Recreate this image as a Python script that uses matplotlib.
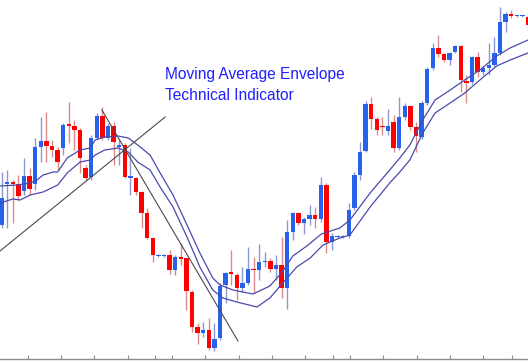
"""Moving average envelope chart: candlesticks, two envelope bands and trend lines."""

import matplotlib.pyplot as plt

# candle data, price units (one unit ~ one pixel of height)
opens = [138, 179, 181, 179, 172, 187, 179, 216, 222, 217, 213, 215, 239, 237, 233, 195,
         186, 225, 247, 225, 237, 216, 218, 185, 185, 171, 150, 125, 107, 107, 108, 93,
         106, 105, 71, 36, 30, 33, 15, 25, 78, 91, 88, 75, 80, 94, 93, 101,
         102, 94, 98, 75, 131, 150, 140, 144, 148, 144, 178, 121, 126, 126, 127, 155,
         188, 212, 259, 244, 237, 232, 241, 215, 246, 257, 236, 226, 260, 295, 315, 309,
         303, 311, 317, 282, 281, 306, 291, 295, 298, 310, 341, 349, 347, 347, 346]
highs = [191, 193, 183, 188, 205, 195, 225, 246, 251, 223, 216, 240, 261, 243, 235, 198,
         228, 250, 256, 240, 241, 223, 220, 215, 186, 172, 155, 126, 109, 109, 113, 108,
         120, 105, 73, 40, 41, 45, 40, 80, 91, 113, 90, 96, 116, 106, 119, 111,
         105, 108, 126, 143, 151, 151, 146, 158, 156, 186, 180, 130, 128, 128, 160, 191,
         221, 262, 266, 246, 246, 254, 248, 266, 260, 258, 241, 262, 296, 320, 328, 310,
         311, 318, 318, 288, 307, 311, 297, 320, 326, 356, 351, 353, 348, 348, 346]
lows = [135, 135, 140, 163, 168, 168, 173, 201, 201, 206, 193, 208, 220, 213, 190, 183,
        183, 224, 223, 223, 198, 198, 185, 168, 168, 135, 124, 101, 106, 106, 89, 88,
        98, 53, 31, 19, 26, 13, 12, 23, 60, 78, 63, 71, 78, 70, 83, 96,
        91, 83, 65, 54, 123, 138, 129, 138, 135, 141, 110, 113, 125, 125, 125, 153,
        183, 211, 234, 228, 228, 228, 211, 213, 243, 233, 211, 224, 258, 293, 306, 301,
        298, 310, 271, 260, 279, 286, 288, 288, 296, 308, 331, 345, 346, 346, 333]
closes = [165, 181, 179, 167, 187, 174, 216, 222, 217, 213, 201, 238, 237, 233, 205, 185,
          225, 247, 225, 237, 221, 218, 186, 187, 171, 150, 125, 108, 108, 108, 93, 106,
          104, 72, 36, 30, 33, 15, 24, 77, 90, 89, 75, 80, 94, 93, 101, 102,
          94, 98, 75, 131, 150, 140, 144, 148, 144, 178, 121, 127, 127, 127, 153, 188,
          211, 259, 244, 233, 236, 237, 215, 246, 257, 236, 227, 260, 294, 315, 309, 303,
          310, 317, 283, 280, 306, 291, 295, 298, 310, 341, 349, 347, 347, 347, 338]

# envelope bands, read at candle positions
upper_x = [-0.3, 2.7, 5.1, 6.3, 7.4, 9.2, 10.0, 11.7, 14.0, 15.8, 16.7, 18.4, 20.8, 22.6,
           24.3, 26.5, 28.3, 30.6, 33.1, 35.4, 37.7, 39.0, 41.3, 44.9, 47.9, 50.1, 52.0,
           54.5, 57.1, 60.4, 62.2, 65.8, 69.3, 71.1, 72.9, 75.2, 77.4, 80.1, 82.7, 85.4,
           88.4, 90.8, 94.0]
upper_y = [177, 178, 180, 183, 188, 191, 191, 205, 213, 215, 223, 226, 227, 225,
           218, 208, 190, 168, 138, 110, 85, 78, 73, 69, 77, 91, 107,
           117, 129, 135, 143, 170, 193, 205, 218, 243, 263, 273, 283, 293,
           307, 315, 323]
lower_x = [-0.3, 2.0, 3.3, 5.1, 7.4, 10.0, 11.7, 14.0, 15.8, 16.7, 18.4, 20.8, 22.6,
           24.3, 26.5, 28.3, 30.6, 33.1, 35.4, 37.7, 39.5, 42.0, 45.6, 47.9, 50.2, 52.7,
           55.1, 57.4, 60.4, 62.2, 65.8, 69.3, 71.1, 72.9, 75.2, 77.4, 80.1, 82.7, 85.4,
           88.4, 90.8, 94.0]
lower_y = [160, 164, 163, 168, 171, 178, 190, 201, 203, 208, 213, 215, 211,
           201, 193, 176, 156, 126, 96, 73, 65, 61, 56, 65, 80, 96,
           105, 118, 125, 128, 156, 180, 191, 203, 230, 250, 260, 270, 283,
           297, 303, 310]

# hand-drawn trend lines (start/end)
trend_up_x = [-0.3, 29.2]
trend_up_y = [112, 246]
trend_down_x = [17.9, 42.2]
trend_down_y = [253, 22]

tick_pos = [4.7, 10.6, 16.5, 22.5, 27.4, 30.4, 36.3, 42.4, 48.3, 54.2, 59.2, 62.2,
            68.1, 74.2, 80.1, 85.9, 91.1]

UP_BODY = "#2763ea"
DOWN_BODY = "#ff0000"
UP_WICK = "#8a98d8"
DOWN_WICK = "#dc8a8a"
ENV_COLOR = "#4a4aae"

fig = plt.figure(figsize=(5.28, 3.63), dpi=100)
ax = fig.add_axes([0, 4 / 363, 1, 359 / 363])
ax.set_xlim(-0.3, 94.0)
ax.set_ylim(4, 363)

for i, (o, h, l, c) in enumerate(zip(opens, highs, lows, closes)):
    up = c >= o
    ax.vlines(i, l, h, color=UP_WICK if up else DOWN_WICK, lw=1.0, zorder=2)
    bottom = min(o, c)
    height = max(abs(c - o), 1.2)
    ax.bar(i, height, bottom=bottom, width=0.78,
           color=UP_BODY if up else DOWN_BODY, linewidth=0, zorder=3)

ax.plot(upper_x, upper_y, color=ENV_COLOR, lw=0.9, zorder=4)
ax.plot(lower_x, lower_y, color=ENV_COLOR, lw=0.9, zorder=4)

ax.plot(trend_up_x, trend_up_y, color="#4a4a4a", lw=0.8, zorder=5)
ax.plot(trend_down_x, trend_down_y, color="#4a4a4a", lw=0.8, zorder=5)

fig.text(165 / 528, 1 - 74 / 363, "Moving Average Envelope", color="#1f1fff",
         fontsize=11.2, family="Liberation Sans", va="center", ha="left")
fig.text(165 / 528, 1 - 96 / 363, "Technical Indicator", color="#1f1fff",
         fontsize=11.2, family="Liberation Sans", va="center", ha="left")

for side in ("top", "left", "right"):
    ax.spines[side].set_visible(False)
ax.spines["bottom"].set_color("#8c8c8c")
ax.spines["bottom"].set_linewidth(1.0)
ax.set_xticks(tick_pos)
ax.set_xticklabels([])
ax.tick_params(axis="x", direction="in", length=3, color="#8c8c8c", width=0.8)
ax.set_yticks([])

fig.savefig("out.png", dpi=100)
